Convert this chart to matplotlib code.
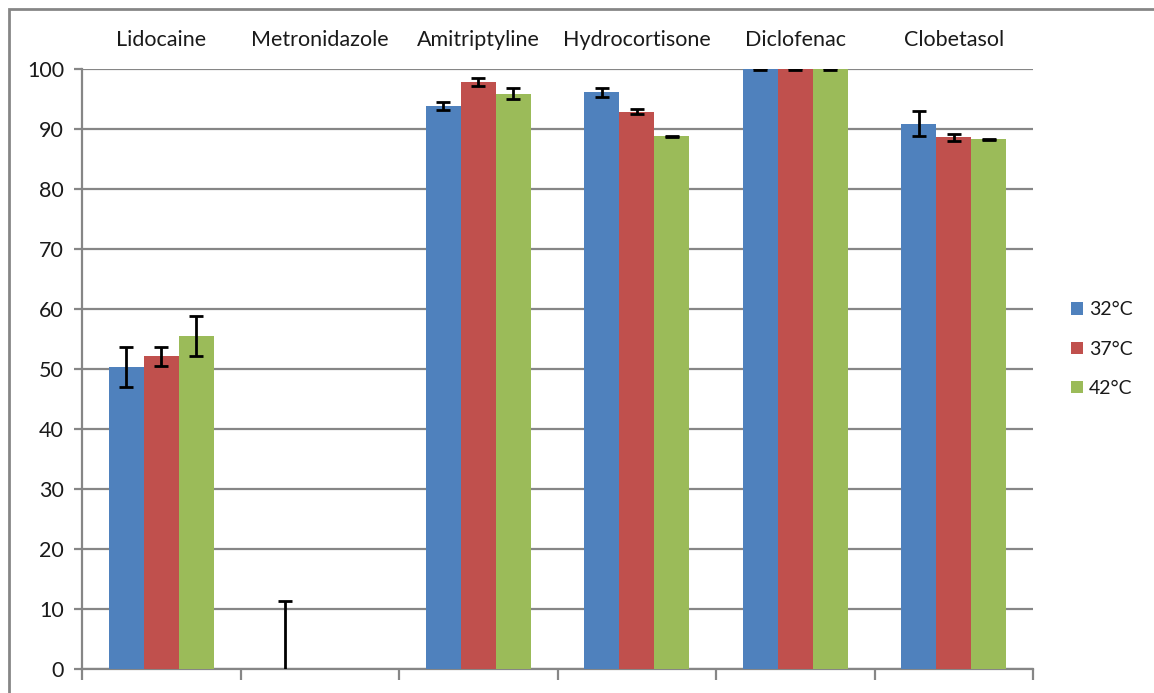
import matplotlib
matplotlib.use("Agg")
import matplotlib.pyplot as plt
from matplotlib.patches import Rectangle
import numpy as np

plt.rcParams['font.family'] = ['Lato', 'DejaVu Sans']

drugs = ["Lidocaine", "Metronidazole", "Amitriptyline", "Hydrocortisone", "Diclofenac", "Clobetasol"]
temps = ["32°C", "37°C", "42°C"]

vals_32 = [50.3, 0.0, 93.8, 96.1, 100.0, 90.9]
vals_37 = [52.1, 0.0, 97.8, 92.9, 100.0, 88.6]
vals_42 = [55.5, 0.0, 95.9, 88.8, 100.0, 88.3]

err_32 = [3.3, 11.3, 0.7, 0.8, 0.1, 2.1]
err_37 = [1.6, 0.0, 0.7, 0.4, 0.1, 0.6]
err_42 = [3.3, 0.0, 0.9, 0.1, 0.1, 0.1]

colors = ["#4f81bd", "#c0504d", "#9bbb59"]
grid_col = "#868686"
text_col = "#1a1a1a"

W, H = 1154, 693
fig = plt.figure(figsize=(W / 100, H / 100), dpi=100)
ax = fig.add_axes([82 / W, 1 - 669 / H, (1033 - 82) / W, (669 - 69) / H])

x = np.arange(len(drugs))
bw = 0.22
series = [(vals_32, err_32), (vals_37, err_37), (vals_42, err_42)]
for i, (v, e) in enumerate(series):
    pos = x + (i - 1) * bw
    ax.bar(pos, v, width=bw, color=colors[i], label=temps[i], zorder=3)
    mask = [ee > 0 for ee in e]
    ax.errorbar(pos[mask], np.array(v)[mask], yerr=np.array(e)[mask], fmt='none',
                ecolor='black', elinewidth=2, capsize=5, capthick=2, zorder=4)

ax.set_xlim(-0.5, len(drugs) - 0.5)
ax.set_ylim(0, 100)
ax.set_yticks(np.arange(0, 101, 10))
ax.yaxis.grid(True, color=grid_col, linewidth=1.6, zorder=0)
ax.set_axisbelow(True)
for s in ["top", "right"]:
    ax.spines[s].set_visible(False)
for s in ["left", "bottom"]:
    ax.spines[s].set_color(grid_col)
    ax.spines[s].set_linewidth(1.6)
ax.tick_params(axis='y', length=6, width=1.6, color=grid_col, labelsize=15.5,
               labelcolor=text_col, pad=7)
ax.set_xticks(np.arange(-0.5, len(drugs)), minor=False)
ax.set_xticklabels([])
ax.tick_params(axis='x', length=8, width=1.6, color=grid_col, direction='out')

for xi, name in zip(x, drugs):
    ax.text(xi, 104.8, name, ha='center', va='center', fontsize=15.5, color=text_col,
            clip_on=False)

leg = ax.legend(loc='center left', bbox_to_anchor=(1.022, 0.533), frameon=False,
                fontsize=14, handlelength=0.6, handleheight=0.6, labelspacing=1.15,
                handletextpad=0.3)
for t in leg.get_texts():
    t.set_color(text_col)

fig.patches.append(Rectangle((9 / W, -0.1), 1.2, 1 - 9 / H + 0.1,
                             transform=fig.transFigure, fill=False,
                             edgecolor=grid_col, linewidth=2))

fig.savefig("out.png", dpi=100, facecolor='white')
